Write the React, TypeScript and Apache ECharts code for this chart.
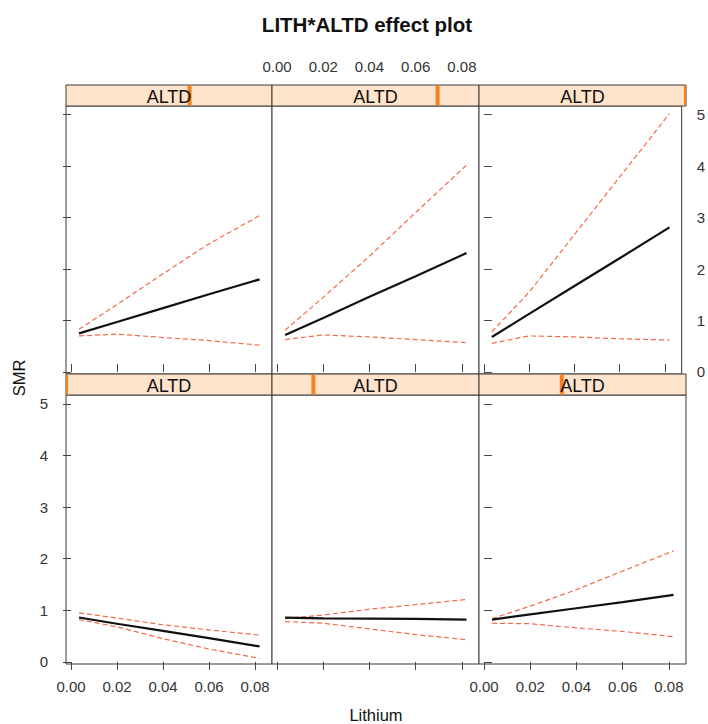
import React, { useEffect, useRef } from "react";
import * as echarts from "echarts";

// ---- data ----
const lithium = [0.0035, 0.02, 0.04, 0.06, 0.082];
const xTicks = [0, 0.02, 0.04, 0.06, 0.08];
const yTicks = [0, 1, 2, 3, 4, 5];
const stripLabel = "ALTD";
// ALTD level indicator position in each strip (0..1)
const altdLevel = [0.6, 0.8, 1.0, 0, 0.2, 0.4];

const fitP1 = [0.75, 0.97, 1.24, 1.51, 1.8];
const upP1 = [0.83, 1.31, 1.91, 2.49, 3.04];
const loP1 = [0.7, 0.735, 0.67, 0.61, 0.52];

const fitP2 = [0.72, 1.05, 1.46, 1.86, 2.31];
const upP2 = [0.81, 1.45, 2.25, 3.1, 4.02];
const loP2 = [0.63, 0.72, 0.68, 0.63, 0.57];

const fitP3 = [0.68, 1.13, 1.67, 2.21, 2.81];
const upP3 = [0.78, 1.55, 2.67, 3.79, 5.02];
const loP3 = [0.555, 0.7, 0.68, 0.645, 0.62];

const fitP4 = [0.86, 0.74, 0.6, 0.46, 0.3];
const upP4 = [0.95, 0.85, 0.72, 0.62, 0.52];
const loP4 = [0.82, 0.68, 0.45, 0.25, 0.07];

const fitP5 = [0.86, 0.845, 0.84, 0.835, 0.82];
const upP5 = [0.84, 0.91, 1.02, 1.11, 1.21];
const loP5 = [0.78, 0.75, 0.64, 0.53, 0.43];

const fitP6 = [0.82, 0.92, 1.04, 1.16, 1.3];
const upP6 = [0.84, 1.08, 1.4, 1.76, 2.15];
const loP6 = [0.75, 0.74, 0.66, 0.59, 0.49];

const fits = [fitP1, fitP2, fitP3, fitP4, fitP5, fitP6];
const uppers = [upP1, upP2, upP3, upP4, upP5, upP6];
const lowers = [loP1, loP2, loP3, loP4, loP5, loP6];

// ---- layout ----
const FONT = "'Liberation Sans', Arial, sans-serif";
const COL_LEFT = [66, 272, 479];
const COL_W = [206, 207, 207];
const BODY_TOP = [106, 395];
const BODY_H = [268, 269];
const STRIP_TOP = [85, 374];
const STRIP_H = 21;
const X_MIN = -0.00217;
const X_MAX = 0.0874;
const Y_MIN = -0.04;
const Y_MAX = 5.17;

export default function App() {
  const ref = useRef<HTMLDivElement>(null);
  useEffect(() => {
    if (!ref.current) return;
    const chart = echarts.init(ref.current, null, { renderer: "svg" });
    const grids: any[] = [];
    const xAxes: any[] = [];
    const yAxes: any[] = [];
    const series: any[] = [];
    const graphics: any[] = [];

    for (let i = 0; i < 6; i++) {
      const row = i < 3 ? 0 : 1;
      const col = i % 3;
      grids.push({
        left: COL_LEFT[col],
        top: BODY_TOP[row],
        width: COL_W[col],
        height: BODY_H[row],
        show: true,
        backgroundColor: "#ffffff",
        borderColor: "#3a3a3a",
        borderWidth: 1,
      });
      const showXLabel = row === 0 ? col === 1 : col !== 1;
      xAxes.push({
        gridIndex: i,
        type: "value",
        min: X_MIN,
        max: X_MAX,
        position: row === 0 ? "top" : "bottom",
        offset: row === 0 ? STRIP_H : 0,
        axisLine: { show: false },
        splitLine: { show: false },
        axisTick: {
          show: true,
          length: 8,
          customValues: xTicks,
          lineStyle: { color: "#444", width: 1 },
        },
        axisLabel: {
          show: showXLabel,
          customValues: xTicks,
          formatter: (v: number) => v.toFixed(2),
          margin: row === 0 ? 11 : 15,
          color: "#333",
          fontFamily: FONT,
          fontSize: 15,
        },
      });
      const showYLabel = (col === 0 && row === 1) || (col === 2 && row === 0);
      yAxes.push({
        gridIndex: i,
        type: "value",
        min: Y_MIN,
        max: Y_MAX,
        show: col !== 1,
        position: col === 0 ? "left" : "right",
        axisLine: { show: false },
        splitLine: { show: false },
        axisTick: {
          show: true,
          length: 8,
          customValues: yTicks,
          lineStyle: { color: "#444", width: 1 },
        },
        axisLabel: {
          show: showYLabel,
          customValues: yTicks,
          margin: col === 0 ? 18 : 15,
          color: "#333",
          fontFamily: FONT,
          fontSize: 15,
        },
      });
      series.push({
        type: "line",
        xAxisIndex: i,
        yAxisIndex: i,
        symbol: "none",
        z: 3,
        lineStyle: { color: "#F36A48", width: 1.2, type: [5, 3] },
        data: lithium.map((x, k) => [x, uppers[i][k]]),
      });
      series.push({
        type: "line",
        xAxisIndex: i,
        yAxisIndex: i,
        symbol: "none",
        z: 3,
        lineStyle: { color: "#F36A48", width: 1.2, type: [5, 3] },
        data: lithium.map((x, k) => [x, lowers[i][k]]),
      });
      series.push({
        type: "line",
        xAxisIndex: i,
        yAxisIndex: i,
        symbol: "none",
        z: 4,
        lineStyle: { color: "#111", width: 2.2 },
        data: lithium.map((x, k) => [x, fits[i][k]]),
      });
    }

    // strips
    for (let i = 0; i < 6; i++) {
      const row = i < 3 ? 0 : 1;
      const col = i % 3;
      const gi = 6 + i;
      grids.push({
        left: COL_LEFT[col],
        top: STRIP_TOP[row],
        width: COL_W[col],
        height: STRIP_H,
        show: true,
        backgroundColor: "#FFE3CA",
        borderColor: "#3a3a3a",
        borderWidth: 1,
      });
      xAxes.push({ gridIndex: gi, type: "value", min: 0, max: 1, show: false });
      yAxes.push({ gridIndex: gi, type: "value", min: 0, max: 1, show: false });
      series.push({
        type: "custom",
        xAxisIndex: gi,
        yAxisIndex: gi,
        z: 5,
        data: [[altdLevel[i], 0.5]],
        renderItem: (params: any, api: any) => {
          const v = api.value(0);
          const p = api.coord([v, 0]);
          const a = api.coord([0, 1]);
          const b = api.coord([1, 0]);
          const x0 = Math.max(a[0], p[0] - 2);
          const x1 = Math.min(b[0], p[0] + 2);
          return {
            type: "rect",
            shape: { x: x0, y: a[1] + 0.5, width: x1 - x0, height: b[1] - a[1] - 1 },
            style: { fill: "#F5811F" },
          };
        },
      });
      graphics.push({
        type: "text",
        x: COL_LEFT[col] + COL_W[col] / 2,
        y: STRIP_TOP[row] + STRIP_H / 2 + 1,
        z: 100,
        style: {
          text: stripLabel,
          fill: "#111",
          font: `18px ${FONT}`,
          textAlign: "center",
          textVerticalAlign: "middle",
        },
      });
    }

    graphics.push({
      type: "text",
      x: 367,
      y: 24,
      z: 100,
      style: {
        text: "LITH*ALTD effect plot",
        fill: "#111",
        font: `bold 20.5px ${FONT}`,
        textAlign: "center",
        textVerticalAlign: "middle",
      },
    });
    graphics.push({
      type: "text",
      x: 19,
      y: 378,
      rotation: Math.PI / 2,
      z: 100,
      style: {
        text: "SMR",
        fill: "#111",
        font: `16.5px ${FONT}`,
        textAlign: "center",
        textVerticalAlign: "middle",
      },
    });
    graphics.push({
      type: "text",
      x: 376,
      y: 715,
      z: 100,
      style: {
        text: "Lithium",
        fill: "#111",
        font: `16.5px ${FONT}`,
        textAlign: "center",
        textVerticalAlign: "middle",
      },
    });

    chart.setOption({
      animation: false,
      backgroundColor: "#ffffff",
      grid: grids,
      xAxis: xAxes,
      yAxis: yAxes,
      series,
      graphic: graphics,
    });
    return () => chart.dispose();
  }, []);
  return (
    <div
      ref={ref}
      style={{ position: "absolute", left: 0, top: 0, width: 708, height: 724 }}
    />
  );
}
